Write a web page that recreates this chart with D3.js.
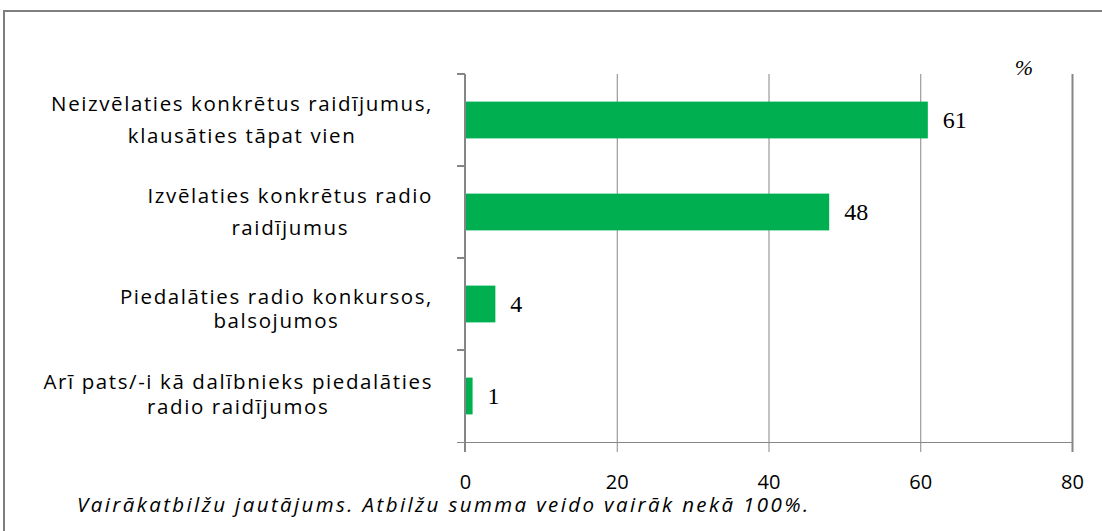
<!DOCTYPE html>
<html>
<head>
<meta charset="utf-8">
<script src="https://cdn.jsdelivr.net/npm/d3@7"></script>
<style>
  body { margin: 0; background: #fff; }
  svg { display: block; }
</style>
</head>
<body>
<div id="chart"></div>
<script>
// Data
var categories = [
	["Neizvēlaties konkrētus raidījumus,", "klausāties tāpat vien"],
	["Izvēlaties konkrētus radio", "raidījumus"],
	["Piedalāties radio konkursos,", "balsojumos"],
	["Arī pats/-i kā dalībnieks piedalāties", "radio raidījumos"]
];
var values = [61, 48, 4, 1];
var xTicks = [0, 20, 40, 60, 80];
var unitLabel = "%";
var footnote = "Vairākatbilžu jautājums. Atbilžu summa veido vairāk nekā 100%.";

// line spacing and vertical shift of the wrapped category labels
var lineGap = [32, 32, 24, 25];
var labelShift = [0, 0, 5, -1.5];

var width = 1102;
var height = 531;

var plot = {left: 465, right: 1072, top: 74, bottom: 442};
var sans = "'Open Sans', 'Noto Sans', sans-serif";

var svg = d3.select("#chart")
	.append("svg")
	.attr("width", width)
	.attr("height", height);

// outer frame
svg.append("rect")
	.attr("x", 4)
	.attr("y", 11)
	.attr("width", width + 10)
	.attr("height", height + 10)
	.attr("fill", "none")
	.attr("stroke", "#7f7f7f")
	.attr("stroke-width", 2);

var xScale = d3.scaleLinear()
	.domain([0, 80])
	.range([plot.left, plot.right]);

var yScale = d3.scaleBand()
	.domain(d3.range(categories.length))
	.range([plot.top, plot.bottom])
	.paddingInner(0.6)
	.paddingOuter(0.3);

// vertical gridlines + bottom axis
var xAxis = svg.append("g")
	.attr("transform", "translate(0," + plot.bottom + ")")
	.call(d3.axisBottom(xScale)
		.tickValues(xTicks)
		.tickSize(10)
		.tickPadding(23));

xAxis.select(".domain").remove();
xAxis.selectAll(".tick line")
	.attr("y1", -(plot.bottom - plot.top))
	.attr("stroke", "#868686")
	.attr("stroke-width", function(d) { return d === 80 ? 2 : 1; });
xAxis.selectAll(".tick text")
	.style("font-family", sans)
	.style("font-size", "20px")
	.attr("fill", "#000");

svg.append("line")
	.attr("x1", plot.left - 8)
	.attr("x2", plot.right)
	.attr("y1", plot.bottom + 0.5)
	.attr("y2", plot.bottom + 0.5)
	.attr("stroke", "#868686");

// category axis with ticks between the bars
var step = (plot.bottom - plot.top) / categories.length;
var yAxis = svg.append("g");
yAxis.append("line")
	.attr("x1", plot.left)
	.attr("x2", plot.left)
	.attr("y1", plot.top)
	.attr("y2", plot.bottom + 10)
	.attr("stroke", "#868686")
	.attr("stroke-width", 2);
yAxis.selectAll("line.cat")
	.data(d3.range(categories.length))
	.enter()
	.append("line")
	.attr("class", "cat")
	.attr("x1", plot.left - 8)
	.attr("x2", plot.left)
	.attr("y1", function(i) { return plot.top + i * step; })
	.attr("y2", function(i) { return plot.top + i * step; })
	.attr("stroke", "#868686")
	.attr("stroke-width", 2);

// bars
svg.selectAll("rect.bar")
	.data(values)
	.enter()
	.append("rect")
	.attr("class", "bar")
	.attr("x", xScale(0) + 1)
	.attr("y", function(d, i) { return yScale(i); })
	.attr("width", function(d) { return xScale(d) - xScale(0) - 1; })
	.attr("height", yScale.bandwidth())
	.attr("fill", "#00b050");

// value labels
svg.selectAll("text.val")
	.data(values)
	.enter()
	.append("text")
	.attr("class", "val")
	.attr("x", function(d) { return xScale(d) + 15; })
	.attr("y", function(d, i) { return yScale(i) + yScale.bandwidth() / 2; })
	.attr("dy", "0.33em")
	.style("font-family", "'Liberation Serif', serif")
	.style("font-size", "24px")
	.attr("fill", "#000")
	.text(function(d) { return d; });

// category labels: block right aligned, lines centered in the block
var labelRight = 433;
categories.forEach(function(lines, i) {
	var g = svg.append("g");
	var cy = yScale(i) + yScale.bandwidth() / 2 + labelShift[i];
	var gap = lineGap[i];
	var texts = lines.map(function(line, k) {
		return g.append("text")
			.attr("y", cy + (k - (lines.length - 1) / 2) * gap)
			.attr("dy", "0.35em")
			.attr("text-anchor", "middle")
			.style("font-family", sans)
			.style("font-size", "20.5px")
			.style("letter-spacing", "1.6px")
			.attr("fill", "#000")
			.text(line);
	});
	var maxW = d3.max(texts, function(t) { return t.node().getComputedTextLength(); });
	texts.forEach(function(t) { t.attr("x", labelRight - maxW / 2); });
});

// unit label
svg.append("text")
	.attr("x", 1024)
	.attr("y", 67)
	.attr("dy", "0.35em")
	.attr("text-anchor", "middle")
	.style("font-family", "'Liberation Serif', serif")
	.style("font-style", "italic")
	.style("font-size", "22px")
	.attr("fill", "#000")
	.text(unitLabel);

// footnote
svg.append("text")
	.attr("x", 77)
	.attr("y", 505)
	.attr("dy", "0.35em")
	.style("font-family", sans)
	.style("font-style", "italic")
	.style("font-size", "20.5px")
	.style("letter-spacing", "2.4px")
	.attr("fill", "#000")
	.text(footnote);
</script>
</body>
</html>
